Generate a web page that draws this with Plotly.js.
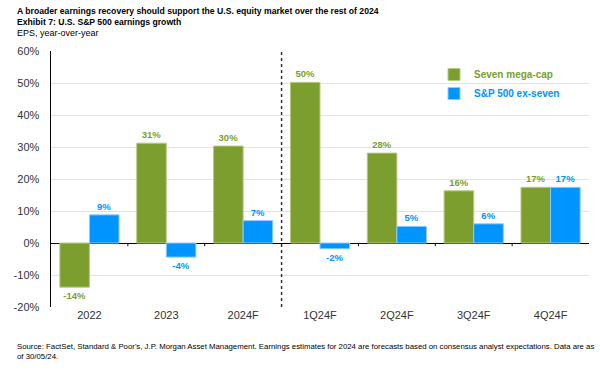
<!DOCTYPE html>
<html>
<head>
<meta charset="utf-8">
<script src="https://cdn.plot.ly/plotly-3.0.1.min.js"></script>
<style>html,body{margin:0;padding:0;background:#fff;}#chart{width:600px;height:384px;}</style>
</head>
<body>
<div id="chart"></div>
<script>
var categories = ["2022", "2023", "2024F", "1Q24F", "2Q24F", "3Q24F", "4Q24F"];
var megaCap = [-13.8, 31.2, 30.3, 50.2, 28.1, 16.3, 17.4];
var exSeven = [8.8, -4.4, 7.0, -1.8, 5.2, 6.0, 17.4];
var megaCapLabels = ["-14%", "31%", "30%", "50%", "28%", "16%", "17%"];
var exSevenLabels = ["9%", "-4%", "7%", "-2%", "5%", "6%", "17%"];
var yTicks = [-20, -10, 0, 10, 20, 30, 40, 50, 60];
var yTickText = ["-20%", "-10%", "0%", "10%", "20%", "30%", "40%", "50%", "60%"];
var dividerAfter = "2024F";

var green = "#7b9e2f";
var blue = "#0094ff";
var ML = 51, MR = 11, MT = 51, MB = 77;
var W = 600, H = 384;
var plotW = W - ML - MR, plotH = H - MT - MB;
function px(x) { return (x - ML) / plotW; }
function py(y) { return (H - MB - y) / plotH; }

var traces = [
  {
    type: "bar", name: "Seven mega-cap", x: categories, y: megaCap,
    text: megaCapLabels, textposition: "outside", cliponaxis: false,
    textfont: {family: "Liberation Sans, Arial, sans-serif", size: 9.5, color: green, weight: "bold"},
    marker: {color: green, line: {color: "#b5cc85", width: 1}},
    hoverinfo: "skip"
  },
  {
    type: "bar", name: "S&P 500 ex-seven", x: categories, y: exSeven,
    text: exSevenLabels, textposition: "outside", cliponaxis: false,
    textfont: {family: "Liberation Sans, Arial, sans-serif", size: 9.5, color: blue, weight: "bold"},
    marker: {color: blue, line: {color: "#8fcaff", width: 1}},
    hoverinfo: "skip"
  }
];

var shapes = [];
var divIdx = categories.indexOf(dividerAfter);
for (var i = 0; i < categories.length - 1; i++) {
  if (i === divIdx) continue;
  shapes.push({type: "line", xref: "x", yref: "y", x0: i + 0.5, x1: i + 0.5, y0: 0, y1: -1, line: {color: "#000", width: 1}});
}
shapes.push({type: "line", xref: "x", yref: "paper", x0: divIdx + 0.5, x1: divIdx + 0.5, y0: 0, y1: 1, line: {color: "#333", width: 1.5, dash: "dot"}});

var F = "Liberation Sans, Arial, sans-serif";
var annotations = [
  {text: "<b>A broader earnings recovery should support the U.S. equity market over the rest of 2024</b>", x: px(15), y: py(11), xref: "paper", yref: "paper", xanchor: "left", yanchor: "middle", showarrow: false, font: {family: F, size: 8.65, color: "#000"}},
  {text: "<b>Exhibit 7: U.S. S&P 500 earnings growth</b>", x: px(15), y: py(21.5), xref: "paper", yref: "paper", xanchor: "left", yanchor: "middle", showarrow: false, font: {family: F, size: 8.65, color: "#000"}},
  {text: "EPS, year-over-year", x: px(15), y: py(32.5), xref: "paper", yref: "paper", xanchor: "left", yanchor: "middle", showarrow: false, font: {family: F, size: 9, color: "#000"}},
  {text: "Source: FactSet, Standard & Poor's, J.P. Morgan Asset Management. Earnings estimates for 2024 are forecasts based on consensus analyst expectations. Data are as<br>of 30/05/24.", x: px(15), y: py(339.5), xref: "paper", yref: "paper", xanchor: "left", yanchor: "top", align: "left", showarrow: false, font: {family: F, size: 7.8, color: "#000"}}
];

var layout = {
  width: W, height: H,
  margin: {l: ML, r: MR, t: MT, b: MB, pad: 0},
  paper_bgcolor: "#fff", plot_bgcolor: "#fff",
  barmode: "group", bargap: 0.23, bargroupgap: 0,
  showlegend: true,
  legend: {x: px(434), y: py(60), xanchor: "left", yanchor: "top", bgcolor: "rgba(0,0,0,0)", font: {family: F, size: 10, weight: "bold"}, tracegroupgap: 0, itemclick: false},
  xaxis: {type: "category", range: [-0.5, categories.length - 0.5], showgrid: false, showline: false, zeroline: false, ticks: "", tickfont: {family: F, size: 11, color: "#333"}, fixedrange: true},
  yaxis: {range: [-20, 60], tickvals: yTicks, ticktext: yTickText, showgrid: true, gridcolor: "#e3e3e3", gridwidth: 1, zeroline: true, zerolinecolor: "#000", zerolinewidth: 1, showline: true, linecolor: "#000", linewidth: 1.5, ticks: "", ticklabelstandoff: 8, tickfont: {family: F, size: 11, color: "#333"}, fixedrange: true},
  shapes: shapes,
  annotations: annotations
};

Plotly.newPlot("chart", traces, layout, {displayModeBar: false, staticPlot: true}).then(function () {
  var items = document.querySelectorAll(".legendtext");
  if (items[0]) items[0].style.fill = green;
  if (items[1]) items[1].style.fill = blue;
});
</script>
</body>
</html>
